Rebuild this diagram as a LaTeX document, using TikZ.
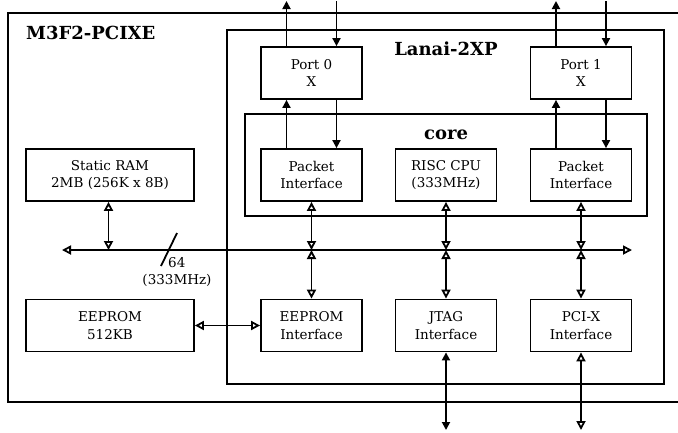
\documentclass[tikz,border=0pt]{standalone}
\usepackage{fontspec}
\setmainfont{DejaVu Serif}
\usetikzlibrary{arrows.meta}
\begin{document}
\begin{tikzpicture}[x=1pt,y=-1pt,
  box/.style={draw,line width=1.8pt,minimum height=52pt,align=center,inner sep=0pt,
    font=\fontsize{13.5}{17.5}\selectfont},
  frame/.style={draw,line width=1.8pt},
  conn/.style={line width=1.8pt},
  oo/.style={conn,{Triangle[open,length=9pt,width=9pt]}-{Triangle[open,length=9pt,width=9pt]}},
  ff/.style={conn,{Triangle[length=8pt,width=8pt]}-{Triangle[length=8pt,width=8pt]}},
  fa/.style={conn,-{Triangle[length=8pt,width=8pt]}},
  lbl/.style={font=\fontsize{13.5}{16}\selectfont,inner sep=0pt},
  title/.style={font=\fontsize{18}{20}\bfseries\selectfont,inner sep=0pt}]
\useasboundingbox (0,0) rectangle (678,432);
\clip (0,0) rectangle (678,432);
% frames
\draw[frame] (8,13) rectangle (700,402);
\draw[frame] (227,30) rectangle (664,384);
\draw[frame] (245,114) rectangle (647,216);
\node[title,anchor=base west] (t1) at (26,39) {M3F2-PCIXE};
\node[title,anchor=base] (t2) at (446,55) {Lanai-2XP};
\node[title,anchor=base] (t3) at (446,139) {core};
% boxes
\node[box,minimum width=101pt] (p0) at (311.5,73) {Port 0\\X};
\node[box,minimum width=101pt] (p1) at (581,73) {Port 1\\X};
\node[box,minimum width=101pt] (pi0) at (311.5,175) {Packet\\Interface};
\node[box,minimum width=101pt] (cpu) at (446,175) {RISC CPU\\(333MHz)};
\node[box,minimum width=101pt] (pi1) at (581,175) {Packet\\Interface};
\node[box,minimum width=168pt] (sram) at (110,175) {Static RAM\\2MB (256K x 8B)};
\node[box,minimum width=168pt] (eep) at (110,325.5) {EEPROM\\512KB};
\node[box,minimum width=101pt] (eepi) at (311.5,325.5) {EEPROM\\Interface};
\node[box,minimum width=101pt] (jtag) at (446,325.5) {JTAG\\Interface};
\node[box,minimum width=101pt] (pci) at (581,325.5) {PCI-X\\Interface};
% coordinates
\coordinate (busL) at (62,250);
\coordinate (busR) at (632,250);
\coordinate (topc) at (0,1);
\coordinate (botc) at (0,430);
% bus
\draw[oo] (busL) -- (busR);
\draw[conn] (161,266) -- (177,233);
\node[lbl,anchor=base west] (w64) at (168,267) {64};
\node[lbl,anchor=base] (mhz) at (177,284) {(333MHz)};
% bus connections
\draw[oo] ([xshift=-1.5pt]sram.south) -- ([xshift=-1.5pt]sram.south |- busL);
\foreach \n in {pi0,cpu,pi1} \draw[oo] (\n.south) -- (\n.south |- busL);
\foreach \n in {eepi,jtag,pci} \draw[oo] (\n.north |- busL) -- (\n.north);
\draw[oo] (eep.east) -- (eepi.west);
% port links
\foreach \p/\q in {p0/pi0,p1/pi1}{
  \draw[fa] ([xshift=-25pt]\p.north) -- ([xshift=-25pt]\p.north |- topc);
  \draw[fa] ([xshift=25pt]\p.north |- topc) -- ([xshift=25pt]\p.north);
  \draw[fa] ([xshift=-25pt]\q.north) -- ([xshift=-25pt]\p.south);
  \draw[fa] ([xshift=25pt]\p.south) -- ([xshift=25pt]\q.north);
}
\draw[ff] (jtag.south) -- (jtag.south |- botc);
\draw[oo] (pci.south) -- (pci.south |- botc);
\end{tikzpicture}
\end{document}
